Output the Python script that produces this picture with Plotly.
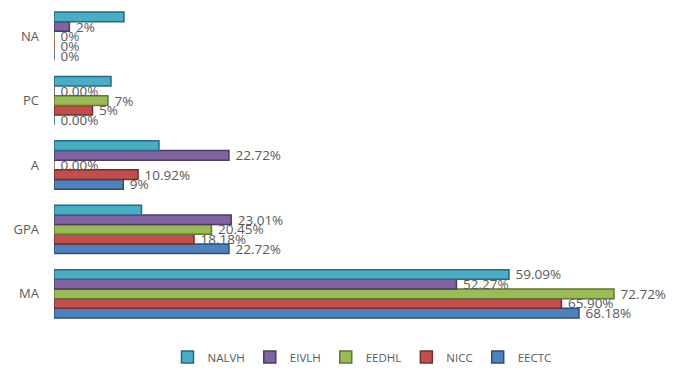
import plotly.graph_objects as go

categories = ["MA", "GPA", "A", "PC", "NA"]

series_names = ["EECTC", "NICC", "EEDHL", "EIVLH", "NALVH"]
EECTC = [68.18, 22.72, 9.0, 0.0, 0.0]
NICC = [65.90, 18.18, 10.92, 5.0, 0.0]
EEDHL = [72.72, 20.45, 0.0, 7.0, 0.0]
EIVLH = [52.27, 23.01, 22.72, 0.0, 2.0]
NALVH = [59.09, 11.36, 13.63, 7.4, 9.09]

EECTC_labels = ["68.18%", "22.72%", "9%", "0.00%", "0%"]
NICC_labels = ["65.90%", "18.18%", "10.92%", "5%", "0%"]
EEDHL_labels = ["72.72%", "20.45%", "0.00%", "7%", "0%"]
EIVLH_labels = ["52.27%", "23.01%", "22.72%", "0.00%", "2%"]
NALVH_labels = ["59.09%", "", "", "", ""]

values = [EECTC, NICC, EEDHL, EIVLH, NALVH]
labels = [EECTC_labels, NICC_labels, EEDHL_labels, EIVLH_labels, NALVH_labels]
colors = ["#4F81BD", "#C0504D", "#9BBB59", "#8064A2", "#4BACC6"]
edges = ["#2C4D75", "#772C2A", "#5F7530", "#4D3B62", "#276A7C"]

FONT = "Open Sans, Liberation Sans, sans-serif"

fig = go.Figure()
for name, vals, labs, c, e in zip(series_names, values, labels, colors, edges):
    fig.add_trace(go.Bar(
        y=categories, x=vals, name=name, orientation="h",
        text=labs, texttemplate="\u00a0%{text}", textposition="outside",
        constraintext="none", cliponaxis=False,
        textfont=dict(family=FONT, size=13.5, color="#595959"),
        marker=dict(color=c, line=dict(color=e, width=1.5)),
    ))

fig.update_layout(
    width=674, height=370,
    barmode="group", bargap=0.25, bargroupgap=0,
    plot_bgcolor="white", paper_bgcolor="white",
    margin=dict(l=54, r=4, t=4, b=44, autoexpand=False),
    showlegend=True,
    legend=dict(orientation="h", x=0.5, xanchor="center",
                yref="container", y=0.035, yanchor="middle",
                traceorder="reversed", itemwidth=30,
                font=dict(family=FONT, size=11.5, color="#595959")),
    xaxis=dict(range=[0, 80], visible=False, showgrid=False, zeroline=False,
               automargin=False),
    yaxis=dict(categoryorder="array", categoryarray=categories, range=[-0.5, 4.5],
               showgrid=False, zeroline=False, showline=False, ticks="",
               ticklabelstandoff=14, automargin=False,
               tickfont=dict(family=FONT, size=13, color="#595959")),
)

fig.write_html("out.html", config={"displayModeBar": False},
               post_script="document.body.style.margin='0';")
